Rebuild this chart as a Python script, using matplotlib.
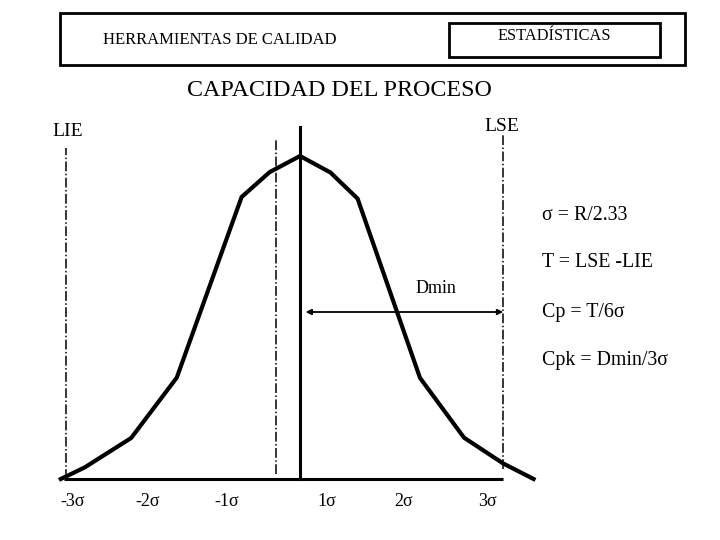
import matplotlib
matplotlib.use("Agg")
import matplotlib.pyplot as plt
from matplotlib.patches import Rectangle

plt.rcParams['font.family'] = ['Liberation Serif', 'DejaVu Serif']

# curve of the process, x in sigma units from the centre line, y relative frequency
curve_x = [-2.99, -2.69, -2.11, -1.54, -0.73, -0.38, 0.0, 0.38, 0.72, 1.5, 2.05, 2.54, 2.92]
curve_y = [0.0, 0.036, 0.127, 0.314, 0.873, 0.950, 1.0, 0.949, 0.868, 0.313, 0.128, 0.048, 0.0]

# sigma labels under the base line
sigma_labels = ['-3σ', '-2σ', '-1σ', '1σ', '2σ', '3σ']
sigma_pos = [-2.84, -1.91, -0.92, 0.34, 1.29, 2.34]

# reference lines
lie_x = -2.925
lse_x = 2.54
mean_x = -0.3
center_x = 0.0

formulas = ['σ = R/2.33', 'T = LSE -LIE', 'Cp = T/6σ', 'Cpk = Dmin/3σ']
formula_y = [0.817, 0.669, 0.517, 0.368]

fig = plt.figure(figsize=(7.2, 5.4), dpi=100)
ax = fig.add_axes([0, 0, 1, 1])
ax.set_xlim(-3.75, 5.25)
ax.set_ylim(-0.1889, 1.483)
ax.axis('off')

# header boxes
fig.patches.append(Rectangle((60 / 720, 1 - 65 / 540), 625 / 720, 52 / 540,
                             transform=fig.transFigure, fill=False, lw=2, ec='black'))
fig.patches.append(Rectangle((449 / 720, 1 - 57 / 540), 211 / 720, 34 / 540,
                             transform=fig.transFigure, fill=False, lw=2, ec='black'))
fig.text(103 / 720, 1 - 43.5 / 540, 'HERRAMIENTAS DE CALIDAD', fontsize=12,
         ha='left', va='baseline')
fig.text(554 / 720, 1 - 40.5 / 540, 'ESTADÍSTICAS', fontsize=11.8, ha='center', va='baseline')
fig.text(339 / 720, 1 - 91 / 540, 'CAPACIDAD DEL PROCESO', fontsize=17.3,
         ha='center', va='center')

# base line and curve
ax.plot([-2.95, lse_x], [0, 0], color='black', lw=2.2, solid_capstyle='butt')
ax.plot(curve_x, curve_y, color='black', lw=3, solid_joinstyle='miter')

# vertical lines
ax.plot([center_x, center_x], [0, 1.09], color='black', lw=2.2)
ax.plot([lie_x, lie_x], [0, 1.025], color='black', lw=1.1, ls='-.')
ax.plot([mean_x, mean_x], [0.015, 1.05], color='black', lw=1.1, ls='-.')
ax.plot([lse_x, lse_x], [0.03, 1.068], color='black', lw=1.1, ls='-.')

ax.text(lie_x + 0.02, 1.076, 'LIE', fontsize=14, ha='center', va='center')
ax.text(lse_x - 0.02, 1.09, 'LSE', fontsize=14, ha='center', va='center')

# Dmin arrow
ax.annotate('', xy=(lse_x, 0.517), xytext=(0.07, 0.517),
            arrowprops=dict(arrowstyle='<|-|>', color='black', lw=1.3,
                            mutation_scale=8, shrinkA=0, shrinkB=0))
ax.text(1.7, 0.591, 'Dmin', fontsize=13, ha='center', va='center')

for lab, pos in zip(sigma_labels, sigma_pos):
    ax.text(pos, -0.071, lab, fontsize=13, ha='center', va='center')

for txt, yy in zip(formulas, formula_y):
    ax.text(3.03, yy, txt, fontsize=14.3, ha='left', va='center')

fig.savefig('out.png', dpi=100)
